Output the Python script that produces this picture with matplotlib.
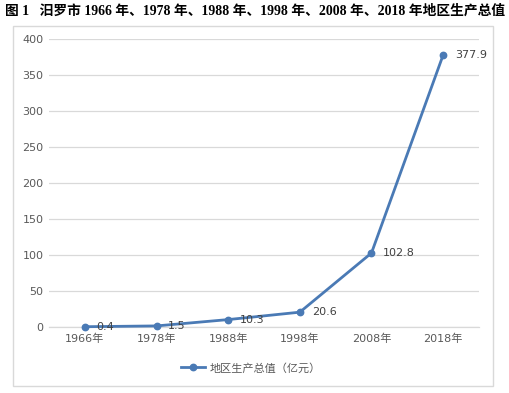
import matplotlib
matplotlib.use("Agg")
import matplotlib.pyplot as plt
from matplotlib.patches import Rectangle
from matplotlib.lines import Line2D

plt.rcParams['font.family'] = ['DejaVu Sans', 'Noto Sans CJK SC']

categories = ["1966年", "1978年", "1988年", "1998年", "2008年", "2018年"]
values = [0.4, 1.5, 10.3, 20.6, 102.8, 377.9]
yticks = [0, 50, 100, 150, 200, 250, 300, 350, 400]
series_name = "地区生产总值（亿元）"
title = "图 1   汨罗市 1966 年、1978 年、1988 年、1998 年、2008 年、2018 年地区生产总值"

W, H = 509, 393
fig = plt.figure(figsize=(W / 100, H / 100), dpi=100)
line_color = "#4a7ab5"
text_color = "#595959"
grid_color = "#d9d9d9"

# outer chart frame
fig.patches.append(Rectangle((13 / W, 1 - 386 / H), (493 - 13) / W, (386 - 26) / H,
                             transform=fig.transFigure, fill=False,
                             edgecolor=grid_color, linewidth=1.0))

fig.text(5 / W, 1 - 11 / H, title, fontsize=9.9, fontweight='bold',
         family=['Liberation Serif', 'Noto Sans CJK SC'],
         color="#000000", va='center', ha='left')

ax = fig.add_axes([49 / W, 1 - 327 / H, (479 - 49) / W, (327 - 39) / H])
x = list(range(len(categories)))
ax.plot(x, values, color=line_color, linewidth=2.0, marker='o', markersize=4.6,
        zorder=3, clip_on=False)
for xi, v in zip(x, values):
    ax.annotate(f"{v}", (xi, v), xytext=(8.5, 0), textcoords='offset points',
                ha='left', va='center', fontsize=8, color="#404040", zorder=4)

ax.set_xlim(-0.5, len(categories) - 0.5)
ax.set_ylim(0, 400)
ax.set_yticks(yticks)
ax.set_xticks(x)
ax.set_xticklabels(categories)
ax.grid(axis='y', color=grid_color, linewidth=0.9)
ax.set_axisbelow(True)
for s in ['top', 'right', 'left']:
    ax.spines[s].set_visible(False)
ax.spines['bottom'].set_color(grid_color)
ax.spines['bottom'].set_linewidth(0.9)
ax.tick_params(axis='both', length=0, labelsize=8, labelcolor=text_color)
ax.tick_params(axis='y', pad=4)
ax.tick_params(axis='x', pad=5)

handle = Line2D([], [], color=line_color, linewidth=2.0, marker='o', markersize=4.6)
fig.legend([handle], [series_name], loc='center', bbox_to_anchor=(251 / W, 1 - 368 / H),
           frameon=False, fontsize=8, labelcolor=text_color, handlelength=2.2,
           handletextpad=0.4)

fig.savefig("out.png", dpi=100)
